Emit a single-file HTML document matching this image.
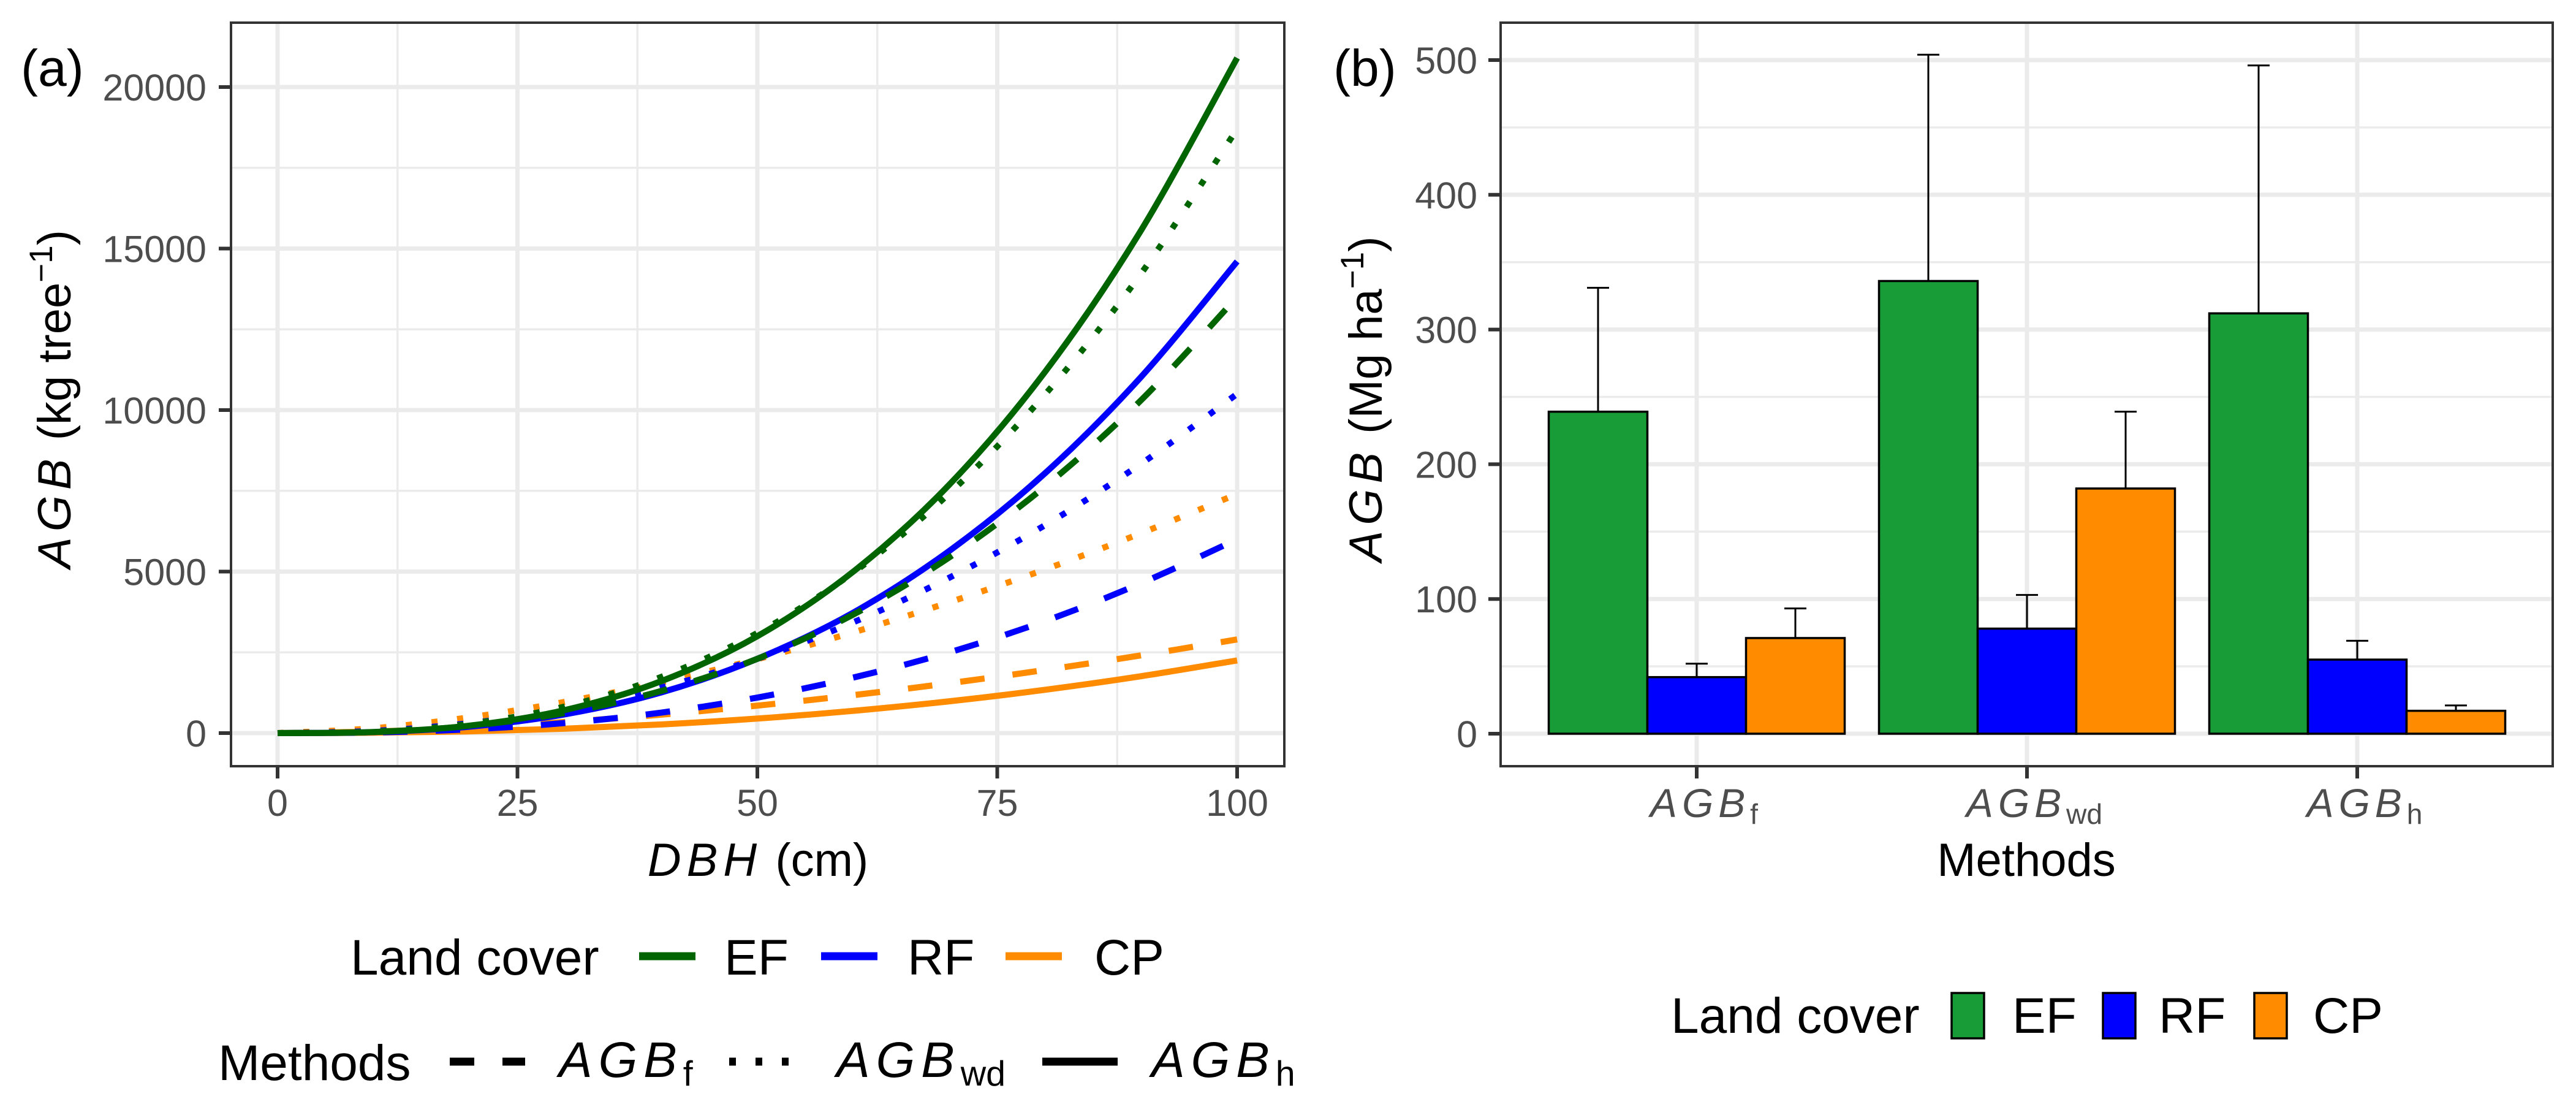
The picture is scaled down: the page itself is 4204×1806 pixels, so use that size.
<!DOCTYPE html>
<html><head><meta charset="utf-8"><style>
html,body{margin:0;padding:0;background:#fff;}
svg{display:block;font-family:"Liberation Sans",Arial,sans-serif;}
</style></head><body>
<svg id="fig" width="4204" height="1806" viewBox="0 0 4204 1806" xmlns="http://www.w3.org/2000/svg">
<g id="pa"></g>
<g id="pb"></g>
</svg>
<script>
// ---- Panel (a) data ----
const dbh = [0,10,20,30,40,50,60,70,80,90,100];
const efF  = [0,38,223,627,1305,2300,3670,5440,7640,10310,13500];
const efWd = [0,48,290,827,1740,3100,4970,7420,10490,14230,18700];
const efH  = [0,33,230,717,1610,3000,5000,7690,11190,15570,20900];
const rfF  = [0,21,117,314,635,1100,1720,2500,3470,4640,6000];
const rfWd = [0,68,309,752,1412,2300,3430,4810,6440,8340,10500];
const rfH  = [0,31,199,585,1260,2300,3730,5640,8050,11030,14600];
const cpF  = [0,49,167,344,572,850,1175,1544,1955,2408,2900];
const cpWd = [0,151,488,970,1573,2290,3120,4050,5070,6190,7400];
const cpH  = [0,11,54,137,268,450,689,984,1341,1762,2250];
const xTicksA = [0,25,50,75,100];
const yTicksA = [0,5000,10000,15000,20000];
// ---- Panel (b) data ----
const methods = ["f","wd","h"];
const landCovers = ["EF","RF","CP"];
const barEF = [239,336,312];
const barRF = [42,78,55];
const barCP = [71,182,17];
const errEF = [331,504,496];
const errRF = [52,103,69];
const errCP = [93,239,21];
const yTicksB = [0,100,200,300,400,500];

const NS="http://www.w3.org/2000/svg";
function mk(parent,tag,attrs,text){const e=document.createElementNS(NS,tag);for(const k in attrs)e.setAttribute(k,attrs[k]);if(text!==undefined)e.textContent=text;parent.appendChild(e);return e;}
function agb(parent,x,y,sub,size,anchor,fill){
  const t=mk(parent,'text',{x:x,y:y,'font-size':size,'text-anchor':anchor,fill:fill});
  mk(t,'tspan',{'font-style':'italic','letter-spacing':size*0.12},'AGB');
  mk(t,'tspan',{'font-size':size*0.7,dy:size*0.17},sub);
  return t;
}
const cols={EF:'#006400',RF:'#0000FF',CP:'#FF8C00'};
const barCols={EF:'#179C37',RF:'#0000FF',CP:'#FF8C00'};

// ===== Panel A =====
const pa=document.getElementById('pa');
const AL=377,AR=2096,AT=37,AB=1250;
const xA=v=>453+(2019-453)*v/100;
const yA=v=>1196-(1196-142)*v/20000;
mk(pa,'rect',{x:AL,y:AT,width:AR-AL,height:AB-AT,fill:'#fff'});
const gA=mk(pa,'g',{});


[12.5,37.5,62.5,87.5].forEach(v=>mk(gA,'line',{x1:xA(v),x2:xA(v),y1:AT,y2:AB,stroke:'#EBEBEB','stroke-width':3.5}));
[2500,7500,12500,17500].forEach(v=>mk(gA,'line',{x1:AL,x2:AR,y1:yA(v),y2:yA(v),stroke:'#EBEBEB','stroke-width':3.5}));
xTicksA.forEach(v=>mk(gA,'line',{x1:xA(v),x2:xA(v),y1:AT,y2:AB,stroke:'#EBEBEB','stroke-width':7}));
yTicksA.forEach(v=>mk(gA,'line',{x1:AL,x2:AR,y1:yA(v),y2:yA(v),stroke:'#EBEBEB','stroke-width':7}));
function smooth(xs,ys){
  const p=xs.map((x,i)=>[xA(x),yA(ys[i])]);
  let d='M'+p[0][0]+','+p[0][1];
  for(let i=0;i<p.length-1;i++){
    const p0=p[Math.max(0,i-1)],p1=p[i],p2=p[i+1],p3=p[Math.min(p.length-1,i+2)];
    const c1=[p1[0]+(p2[0]-p0[0])/6,p1[1]+(p2[1]-p0[1])/6];
    const c2=[p2[0]-(p3[0]-p1[0])/6,p2[1]-(p3[1]-p1[1])/6];
    d+=' C'+c1[0]+','+c1[1]+' '+c2[0]+','+c2[1]+' '+p2[0]+','+p2[1];
  }
  return d;
}
const dashF='40,46', dashWd='10,32';
const series=[
 ['cp-h',cpH,cols.CP,null],['cp-f',cpF,cols.CP,dashF],['cp-wd',cpWd,cols.CP,dashWd],
 ['rf-f',rfF,cols.RF,dashF],['rf-wd',rfWd,cols.RF,dashWd],['rf-h',rfH,cols.RF,null],
 ['ef-f',efF,cols.EF,dashF],['ef-wd',efWd,cols.EF,dashWd],['ef-h',efH,cols.EF,null]
];
series.forEach(s=>{
  const a={d:smooth(dbh,s[1]),fill:'none',stroke:s[2],'stroke-width':10};
  if(s[3])a['stroke-dasharray']=s[3];
  const p=mk(pa,'path',a);
  
  
});
mk(pa,'rect',{x:AL,y:AT,width:AR-AL,height:AB-AT,fill:'none',stroke:'#333','stroke-width':4});
xTicksA.forEach(v=>{
  mk(pa,'line',{x1:xA(v),x2:xA(v),y1:AB,y2:AB+20,stroke:'#333','stroke-width':6});
  const t=mk(pa,'text',{x:xA(v),y:1331,'font-size':61,'text-anchor':'middle',fill:'#4D4D4D'},String(v));
  
  
});
yTicksA.forEach(v=>{
  mk(pa,'line',{x1:AL-20,x2:AL,y1:yA(v),y2:yA(v),stroke:'#333','stroke-width':6});
  const t=mk(pa,'text',{x:337,y:yA(v)+22,'font-size':61,'text-anchor':'end',fill:'#4D4D4D'},String(v));
  
  
});
let t=mk(pa,'text',{x:34,y:140,'font-size':84,fill:'#000'},'(a)');

t=mk(pa,'text',{x:1237,y:1429,'font-size':76,'text-anchor':'middle',fill:'#000'});

mk(t,'tspan',{'font-style':'italic','letter-spacing':9},'DBH');mk(t,'tspan',{},' (cm)');
t=mk(pa,'text',{x:0,y:0,'font-size':76,'text-anchor':'middle',fill:'#000',transform:'translate(115,651) rotate(-90)'});

mk(t,'tspan',{'font-style':'italic','letter-spacing':9},'AGB');mk(t,'tspan',{},' (kg tree');
mk(t,'tspan',{'font-size':53,dy:-30},'−1');mk(t,'tspan',{dy:30},')');
// legend a
const la=mk(pa,'g',{});

mk(la,'text',{x:572,y:1590,'font-size':82,fill:'#000'},'Land cover');
[['EF',1043,1182],['RF',1340,1481],['CP',1641,1786]].forEach(e=>{
  const g=mk(la,'g',{});
  
  
  mk(g,'line',{x1:e[1],x2:e[1]+92,y1:1560,y2:1560,stroke:cols[e[0]],'stroke-width':13});
  mk(g,'text',{x:e[2],y:1590,'font-size':82,fill:'#000'},e[0]);
});
mk(la,'text',{x:356,y:1762,'font-size':82,fill:'#000'},'Methods');
[['f',dashF,734,912],['wd',dashWd,1190,1365],['h',null,1701,1879]].forEach(e=>{
  const g=mk(la,'g',{});
  
  
  const a={x1:e[2],x2:e[2]+123,y1:1732,y2:1732,stroke:'#000','stroke-width':13};
  if(e[1])a['stroke-dasharray']=e[1]==dashF?'40,46':'11,32';
  mk(g,'line',a);
  agb(g,e[3],1757,e[0],82,'start','#000');
});

// ===== Panel B =====
const pb=document.getElementById('pb');
const BL=2449,BR=4166,BT=37,BB=1250;
const yB=v=>1197-(1197-98)*v/500;
const xCat=i=>2769+539*i;
const bw=161;
const gB=mk(pb,'g',{});

[50,150,250,350,450].forEach(v=>mk(gB,'line',{x1:BL,x2:BR,y1:yB(v),y2:yB(v),stroke:'#EBEBEB','stroke-width':3.5}));
yTicksB.forEach(v=>mk(gB,'line',{x1:BL,x2:BR,y1:yB(v),y2:yB(v),stroke:'#EBEBEB','stroke-width':7}));
methods.forEach((m,i)=>mk(gB,'line',{x1:xCat(i),x2:xCat(i),y1:BT,y2:BB,stroke:'#EBEBEB','stroke-width':7}));
const barSets=[[barEF,errEF,'EF'],[barRF,errRF,'RF'],[barCP,errCP,'CP']];
methods.forEach((m,i)=>{
  barSets.forEach((s,j)=>{
    const x0=xCat(i)-1.5*bw+j*bw;
    const cx=x0+bw/2;
    const e=mk(pb,'line',{x1:cx,x2:cx,y1:yB(s[0][i]),y2:yB(s[1][i]),stroke:'#000','stroke-width':3});
    
    
    const c=mk(pb,'line',{x1:cx-18,x2:cx+18,y1:yB(s[1][i]),y2:yB(s[1][i]),stroke:'#000','stroke-width':3});
    
    
    const r=mk(pb,'rect',{x:x0,y:yB(s[0][i]),width:bw,height:yB(0)-yB(s[0][i]),fill:barCols[s[2]],stroke:'#000','stroke-width':3.5});
    
    
  });
});
mk(pb,'rect',{x:BL,y:BT,width:BR-BL,height:BB-BT,fill:'none',stroke:'#333','stroke-width':4});
yTicksB.forEach(v=>{
  mk(pb,'line',{x1:BL-20,x2:BL,y1:yB(v),y2:yB(v),stroke:'#333','stroke-width':6});
  const tt=mk(pb,'text',{x:2411,y:yB(v)+22,'font-size':61,'text-anchor':'end',fill:'#4D4D4D'},String(v));
  
});
methods.forEach((m,i)=>{
  mk(pb,'line',{x1:xCat(i),x2:xCat(i),y1:BB,y2:BB+20,stroke:'#333','stroke-width':6});
  const tt=agb(pb,xCat(i)+12,1333,m,66,'middle','#4D4D4D');
  
});
t=mk(pb,'text',{x:2176,y:140,'font-size':84,fill:'#000'},'(b)');

t=mk(pb,'text',{x:3307,y:1429,'font-size':76,'text-anchor':'middle',fill:'#000'},'Methods');

t=mk(pb,'text',{x:0,y:0,'font-size':76,'text-anchor':'middle',fill:'#000',transform:'translate(2255,651) rotate(-90)'});

mk(t,'tspan',{'font-style':'italic','letter-spacing':9},'AGB');mk(t,'tspan',{},' (Mg ha');
mk(t,'tspan',{'font-size':53,dy:-30},'−1');mk(t,'tspan',{dy:30},')');
const lb=mk(pb,'g',{});

mk(lb,'text',{x:2727,y:1685,'font-size':82,fill:'#000'},'Land cover');
[['EF',3185,3284],['RF',3432,3523],['CP',3679,3775]].forEach(e=>{
  const g=mk(lb,'g',{});
  
  
  mk(g,'rect',{x:e[1],y:1620,width:53,height:74,fill:barCols[e[0]],stroke:'#000','stroke-width':3.5});
  mk(g,'text',{x:e[2],y:1685,'font-size':82,fill:'#000'},e[0]);
});
</script>
</body></html>
